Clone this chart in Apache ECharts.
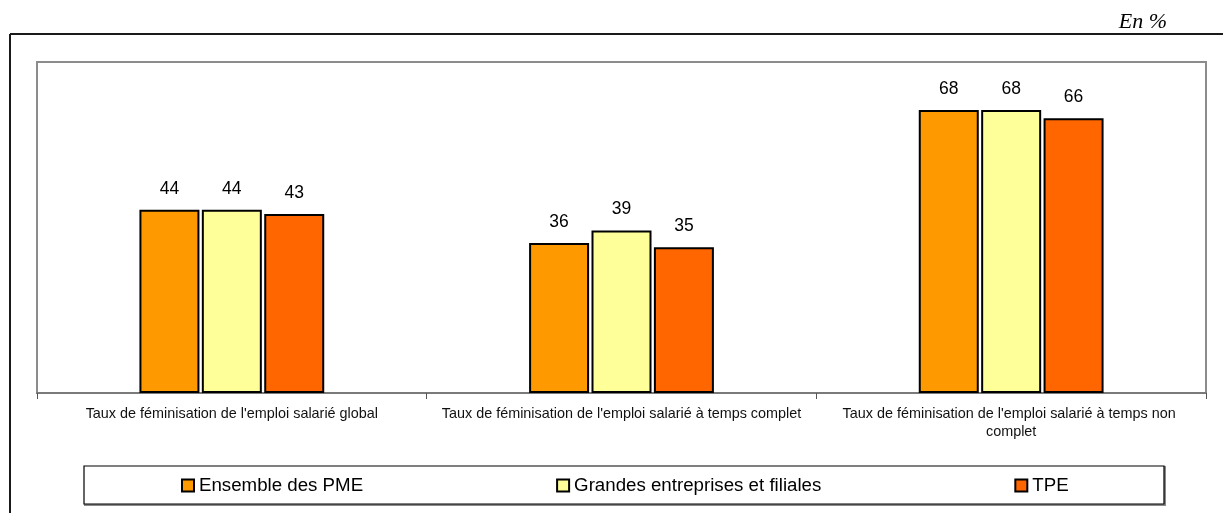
<!DOCTYPE html>
<html>
<head>
<meta charset="utf-8">
<script src="https://cdn.jsdelivr.net/npm/echarts@6/dist/echarts.min.js"></script>
<style>
html,body{margin:0;padding:0;background:#fff;}
#chart{width:1223px;height:513px;}
</style>
</head>
<body>
<div id="chart"></div>
<script>
const categories = [
  "Taux de féminisation de l'emploi salarié global",
  "Taux de féminisation de l'emploi salarié à temps complet",
  "Taux de féminisation de l'emploi salarié à temps non complet"
];
const seriesNames = ["Ensemble des PME", "Grandes entreprises et filiales", "TPE"];
const pmeValues = [44, 36, 68];
const grandesValues = [44, 39, 68];
const tpeValues = [43, 35, 66];
const colors = ["#FF9900", "#FFFF99", "#FF6600"];
const unitLabel = "En %";

const font = "'Liberation Sans', Arial, sans-serif";
const chart = echarts.init(document.getElementById('chart'), null, {renderer: 'canvas'});

function makeSeries(name, data, color) {
  return {
    name: name,
    type: 'bar',
    data: data,
    barWidth: 60,
    barGap: '4%',
    itemStyle: {color: color, borderColor: '#000', borderWidth: 2},
    label: {
      show: true, position: 'top', distance: 12,
      fontFamily: font, fontSize: 17.5, color: '#000'
    },
    emphasis: {disabled: true}
  };
}

chart.setOption({
  animation: false,
  backgroundColor: '#fff',
  grid: {
    left: 37, right: 17, top: 62, bottom: 120,
    show: true, borderColor: '#8c8c8c', borderWidth: 2, containLabel: false
  },
  xAxis: {
    type: 'category',
    data: categories,
    boundaryGap: true,
    axisLine: {lineStyle: {color: '#7a7a7a', width: 2}},
    axisTick: {show: true, length: 6, alignWithLabel: false, lineStyle: {color: '#555', width: 1}},
    axisLabel: {
      interval: 0, margin: 12, fontFamily: font, fontSize: 14.4, color: '#111',
      lineHeight: 17.7, width: 382, overflow: 'break', align: 'center'
    }
  },
  yAxis: {
    type: 'value', min: 0, max: 79.5, show: false,
    splitLine: {show: false}
  },
  legend: {
    data: seriesNames,
    left: 181, top: 476, padding: 0,
    itemGap: 193, itemWidth: 12, itemHeight: 12, icon: 'rect',
    textStyle: {fontFamily: font, fontSize: 18.7, color: '#000'},
    selectedMode: false
  },
  series: [
    makeSeries(seriesNames[0], pmeValues, colors[0]),
    makeSeries(seriesNames[1], grandesValues, colors[1]),
    makeSeries(seriesNames[2], tpeValues, colors[2])
  ],
  graphic: [
    {type: 'line', shape: {x1: 10, y1: 34, x2: 1223, y2: 34}, style: {stroke: '#1a1a1a', lineWidth: 2}, silent: true},
    {type: 'line', shape: {x1: 10, y1: 34, x2: 10, y2: 513}, style: {stroke: '#1a1a1a', lineWidth: 2}, silent: true},
    {type: 'rect', shape: {x: 85, y: 467, width: 1080, height: 38}, style: {fill: 'none', stroke: '#8a8a8a', lineWidth: 2}, silent: true, z: -1},
    {type: 'rect', shape: {x: 84, y: 466, width: 1080, height: 38}, style: {fill: '#fff', stroke: '#000', lineWidth: 1.2}, silent: true, z: -1},
    {type: 'text', right: 1223 - 1167, top: 11, style: {text: unitLabel, font: "italic 22px 'Liberation Serif', 'Times New Roman', serif", fill: '#000'}, silent: true}
  ]
});
</script>
</body>
</html>
